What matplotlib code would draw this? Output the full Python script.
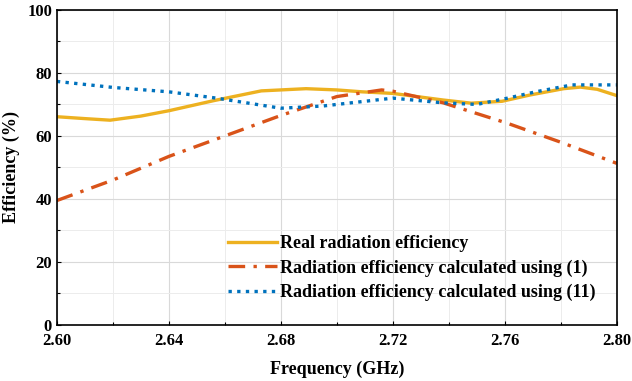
import numpy as np
import matplotlib
matplotlib.use('Agg')
import matplotlib.pyplot as plt
from matplotlib.ticker import MultipleLocator

# data
freq_real = [2.600, 2.610, 2.619, 2.630, 2.640, 2.656, 2.673, 2.689, 2.700, 2.709, 2.720,
             2.738, 2.748, 2.759, 2.769, 2.781, 2.787, 2.793, 2.800]
eff_real = [66.1, 65.5, 65.0, 66.3, 68.0, 71.2, 74.3, 75.0, 74.6, 74.0, 73.5,
            71.4, 70.4, 71.0, 73.0, 75.0, 75.5, 74.8, 72.8]

freq_eq1 = [2.600, 2.620, 2.640, 2.660, 2.680, 2.700, 2.716, 2.720, 2.738, 2.761, 2.780, 2.800]
eff_eq1 = [39.5, 46.0, 53.5, 60.0, 66.5, 72.5, 74.6, 74.2, 70.5, 64.0, 58.0, 51.3]

freq_eq11 = [2.600, 2.620, 2.640, 2.657, 2.680, 2.695, 2.720, 2.738, 2.750, 2.761, 2.771,
             2.784, 2.800]
eff_eq11 = [77.3, 75.4, 74.0, 72.0, 68.8, 69.5, 72.0, 70.5, 70.0, 72.0, 74.0, 76.2, 76.2]

plt.rcParams['font.family'] = ['Liberation Serif', 'DejaVu Serif']
plt.rcParams['font.weight'] = 'bold'

fig = plt.figure(figsize=(6.32, 3.81), dpi=100)
ax = fig.add_axes([0.090, 0.147, 0.886, 0.827])

ax.plot(freq_real, eff_real, color='#EDB120', lw=2.4, label='Real radiation efficiency')
ax.plot(freq_eq1, eff_eq1, color='#D95319', lw=2.4, linestyle=(0, (5, 2.5, 1, 2.5)),
        label='Radiation efficiency calculated using (1)')
ax.plot(freq_eq11, eff_eq11, color='#0072BD', lw=2.4, linestyle=(0, (1, 1.6)),
        label='Radiation efficiency calculated using (11)')

ax.set_xlim(2.60, 2.80)
ax.set_ylim(0, 100)
ax.xaxis.set_major_locator(MultipleLocator(0.04))
ax.xaxis.set_minor_locator(MultipleLocator(0.02))
ax.yaxis.set_major_locator(MultipleLocator(20))
ax.yaxis.set_minor_locator(MultipleLocator(10))
ax.xaxis.set_major_formatter(matplotlib.ticker.FormatStrFormatter('%.2f'))
ax.grid(True, which='major', color='#d9d9d9', lw=0.8)
ax.grid(True, which='minor', color='#ececec', lw=0.7)
ax.set_axisbelow(True)
ax.tick_params(which='both', direction='in', labelsize=12, width=0.8)
ax.tick_params(which='major', length=3)
ax.tick_params(which='minor', length=2)
ax.tick_params(axis='x', pad=6)
for s in ax.spines.values():
    s.set_linewidth(1.2)

ax.set_xlabel('Frequency (GHz)', fontsize=13, fontweight='bold', labelpad=8)
ax.set_ylabel('Efficiency (%)', fontsize=13, fontweight='bold', labelpad=5)

ax.legend(loc='upper left', bbox_to_anchor=(0.283, 0.325), frameon=False, fontsize=13.0,
          handlelength=2.7, handletextpad=0.2, labelspacing=0.4, borderpad=0.2)

fig.savefig('out.png', dpi=100)
